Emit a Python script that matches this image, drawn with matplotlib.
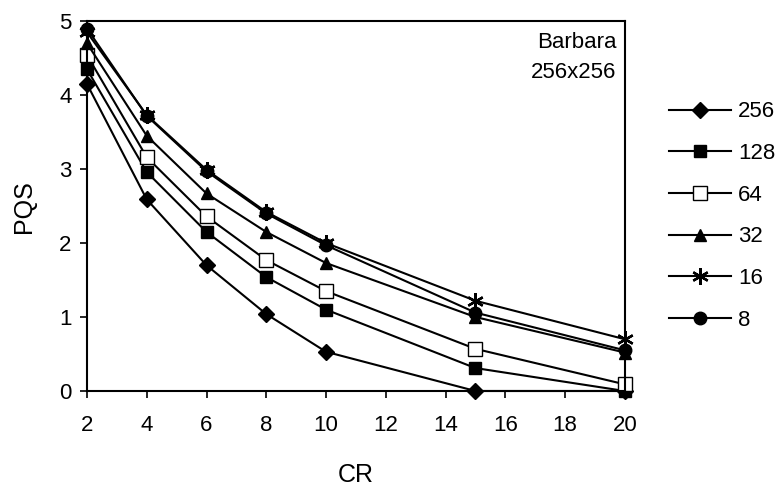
import matplotlib.pyplot as plt

plt.rcParams['font.family'] = ['Liberation Sans', 'DejaVu Sans']

cr = [2, 4, 6, 8, 10, 15, 20]
# PQS для разных размеров блока
pqs_256 = [4.15, 2.59, 1.70, 1.04, 0.53, 0.0, 0.0]
pqs_128 = [4.35, 2.96, 2.15, 1.54, 1.10, 0.31, 0.0]
pqs_64 = [4.54, 3.16, 2.36, 1.77, 1.35, 0.57, 0.09]
pqs_32 = [4.70, 3.45, 2.67, 2.15, 1.73, 1.00, 0.52]
pqs_16 = [4.85, 3.73, 2.99, 2.42, 2.00, 1.22, 0.70]
pqs_8 = [4.90, 3.72, 2.97, 2.40, 1.97, 1.06, 0.55]

series = [
    ('256', pqs_256, dict(marker='D', markersize=8, mfc='black')),
    ('128', pqs_128, dict(marker='s', markersize=9, mfc='black')),
    ('64', pqs_64, dict(marker='s', markersize=9.5, mfc='white')),
    ('32', pqs_32, dict(marker='^', markersize=9, mfc='black')),
    ('16', pqs_16, dict(marker=(6, 2, 0), markersize=12, mew=1.7)),
    ('8', pqs_8, dict(marker='o', markersize=9, mfc='black')),
]

fig = plt.figure(figsize=(7.81, 4.92), dpi=100)
ax = fig.add_axes([0.1114, 0.2053, 0.6886, 0.7517])

for label, vals, st in series:
    ax.plot(cr, vals, color='black', lw=1.5, mec='black', label=label,
            clip_on=False, **st)

ax.set_xlim(2, 20)
ax.set_ylim(0, 5)
ax.set_xticks(range(2, 21, 2))
ax.set_yticks(range(0, 6))
ax.tick_params(labelsize=16, direction='out', length=5, width=1.2)
ax.tick_params(axis='x', pad=12)
ax.tick_params(axis='y', pad=6)
for s in ax.spines.values():
    s.set_linewidth(1.5)

ax.set_xlabel('CR', fontsize=18, labelpad=20)
ax.set_ylabel('PQS', fontsize=18, labelpad=17)
ax.text(0.985, 0.97, 'Barbara\n256x256', transform=ax.transAxes,
        ha='right', va='top', fontsize=16, linespacing=1.55)

fig.legend(loc='center left', bbox_to_anchor=(0.8566, 0.561),
           bbox_transform=fig.transFigure, frameon=False, borderpad=0,
           borderaxespad=0, fontsize=16, handlelength=2.8,
           labelspacing=0.93, handletextpad=0.3)

plt.savefig('out.png', dpi=100)
